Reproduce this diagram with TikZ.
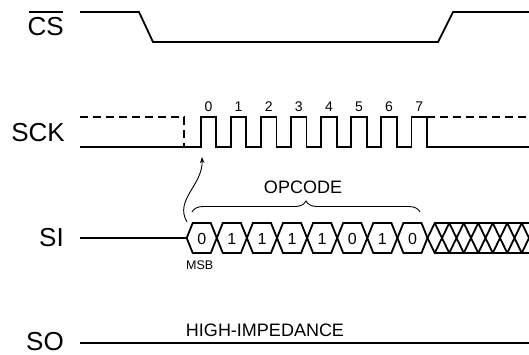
\documentclass[tikz,border=0pt]{standalone}
\usepackage{fontspec}
\setmainfont{Liberation Sans}
\usetikzlibrary{arrows.meta,decorations.pathreplacing}
\begin{document}
\begin{tikzpicture}[x=1pt, y=-1pt,
    signal/.style={line width=1.8pt, line join=miter},
    idle/.style={signal, dash pattern=on 8pt off 5pt},
    thinline/.style={line width=0.9pt},
    pinname/.style={font=\fontsize{26}{26}\selectfont, inner sep=0pt, anchor=base east},
    bitnum/.style={font=\fontsize{14}{14}\selectfont, inner sep=0pt, anchor=base},
    bitval/.style={font=\fontsize{16}{16}\selectfont, inner sep=0pt},
    note/.style={font=\fontsize{18}{18}\selectfont, inner sep=0pt, anchor=base}]
    \useasboundingbox (0,0) rectangle (529,354);
    \clip (0,0) rectangle (529,354);
    % pin names
    \node[pinname] (cs) at (64,35) {CS};
    \draw[line width=1.4pt] ([xshift=2pt,yshift=4.5pt]cs.north west) -- ([xshift=-1pt,yshift=4.5pt]cs.north east);
    \node[pinname] (sck) at (65,141.5) {SCK};
    \node[pinname] (si) at (64,246) {SI};
    \node[pinname] (so) at (64,350) {SO};
    % chip select
    \draw[signal] (80,12) -- (139,12) -- (153,42) -- (438,42) -- (453,12) -- (529,12);
    % clock, dashed where it is idle
    \draw[idle] (80,117) -- (184,117) -- (184,147);
    \draw[idle] (427,117) -- (529,117);
    \draw[signal] (80,147) -- (200.7,147)
        \foreach \i in {0,...,7} { -- ++(0,-30) -- ++(15.5,0) -- ++(0,30) -- ++(14.6,0) } -- (529,147);
    % clock numbers
    \foreach \i in {0,...,7}
        \node[bitnum] (clk\i) at (208.5+30.1*\i,111.7) {\i};
    % serial in
    \draw[signal] (80,238) -- (186.7,238);
    \foreach \b [count=\i from 0] in {0,1,1,1,1,0,1,0} {
        \draw[signal, shift={(30.1*\i,0)}] (186.7,238) -- (192.7,223) -- (210.8,223) -- (216.8,238) -- (210.8,253) -- (192.7,253) -- cycle;
        \node[bitval] (bit\i) at (201.75+30.1*\i,239) {\b};
    }
    % don't care after the opcode
    \draw[signal] (427.5,238) -- (434.75,223) -- (529,223);
    \draw[signal] (427.5,238) -- (434.75,253) -- (529,253);
    \foreach \i in {0,...,6}
        \draw[signal, shift={(14.5*\i,0)}] (434.75,223) -- (449.25,253) (434.75,253) -- (449.25,223);
    \node[font=\fontsize{12.5}{12.5}\selectfont, inner sep=0pt, anchor=base west] (msb) at (186,269) {MSB};
    % opcode brace
    \coordinate (opleft) at (192,212);
    \coordinate (opright) at (420,212);
    \draw[thinline, decorate, decoration={brace, amplitude=11pt}] (opleft) -- (opright);
    \node[note] (opcode) at (303,193.3) {OPCODE};
    % first bit is latched on the first rising edge
    \coordinate (firstbit) at (187,222);
    \coordinate (firstedge) at (202,157);
    \draw[thinline, -{Stealth[length=6pt,width=4.5pt]}] (firstbit) .. controls (174,200) and (203,185) .. (firstedge);
    % serial out
    \draw[signal] (80,343.3) -- (529,343.3);
    \node[note] (hiz) at (265,336.7) {HIGH-IMPEDANCE};
\end{tikzpicture}
\end{document}
